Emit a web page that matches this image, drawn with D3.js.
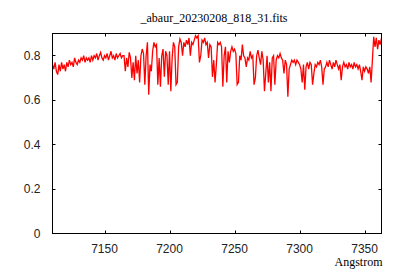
<!DOCTYPE html>
<html><head><meta charset="utf-8">
<script src="https://cdn.jsdelivr.net/npm/d3@7"></script>
<style>body{margin:0;background:#fff}svg{display:block}</style>
</head><body><svg id="c" width="400" height="280"></svg>
<script>
const title = "_abaur_20230208_818_31.fits";
const xLabel = "Angstrom";
const xTicks = [7150, 7200, 7250, 7300, 7350];
const yTicks = [0, 0.2, 0.4, 0.6, 0.8];
const xRange = [7110, 7363];
const yRange = [0, 0.9];
const wavelengths = [
7110,7111,7112,7113,7114,7115,7116,7117,7118,7119,
7120,7121,7122,7123,7124,7125,7126,7127,7128,7129,
7130,7131,7132,7133,7134,7135,7136,7137,7138,7139,
7140,7141,7142,7143,7144,7145,7146,7147,7148,7149,
7150,7151,7152,7153,7154,7155,7156,7157,7158,7159,
7160,7161,7162,7163,7164,7165,7166,7167,7168,7169,
7170,7171,7172,7173,7174,7175,7176,7177,7178,7179,
7180,7181,7182,7183,7184,7185,7186,7187,7188,7189,
7190,7191,7192,7193,7194,7195,7196,7197,7198,7199,
7200,7201,7202,7203,7204,7205,7206,7207,7208,7209,
7210,7211,7212,7213,7214,7215,7216,7217,7218,7219,
7220,7221,7222,7223,7224,7225,7226,7227,7228,7229,
7230,7231,7232,7233,7234,7235,7236,7237,7238,7239,
7240,7241,7242,7243,7244,7245,7246,7247,7248,7249,
7250,7251,7252,7253,7254,7255,7256,7257,7258,7259,
7260,7261,7262,7263,7264,7265,7266,7267,7268,7269,
7270,7271,7272,7273,7274,7275,7276,7277,7278,7279,
7280,7281,7282,7283,7284,7285,7286,7287,7288,7289,
7290,7291,7292,7293,7294,7295,7296,7297,7298,7299,
7300,7301,7302,7303,7304,7305,7306,7307,7308,7309,
7310,7311,7312,7313,7314,7315,7316,7317,7318,7319,
7320,7321,7322,7323,7324,7325,7326,7327,7328,7329,
7330,7331,7332,7333,7334,7335,7336,7337,7338,7339,
7340,7341,7342,7343,7344,7345,7346,7347,7348,7349,
7350,7351,7352,7353,7354,7355,7356,7357,7358,7359,
7360,7361,7362,7363];
const flux = [
0.76,0.74,0.77,0.73,0.715,0.76,0.73,0.77,0.74,0.76,
0.73,0.77,0.75,0.78,0.76,0.77,0.75,0.79,0.77,0.76,
0.78,0.77,0.79,0.78,0.80,0.77,0.79,0.78,0.79,0.77,
0.80,0.78,0.80,0.79,0.81,0.78,0.80,0.815,0.79,0.78,
0.80,0.79,0.81,0.78,0.80,0.82,0.79,0.80,0.78,0.81,
0.79,0.80,0.81,0.79,0.80,0.80,0.73,0.79,0.75,0.815,
0.79,0.70,0.77,0.69,0.80,0.72,0.78,0.68,0.80,0.83,
0.81,0.67,0.80,0.86,0.625,0.76,0.73,0.82,0.86,0.84,
0.85,0.67,0.79,0.66,0.80,0.83,0.705,0.82,0.80,0.67,
0.82,0.64,0.79,0.86,0.84,0.67,0.68,0.84,0.875,0.86,
0.80,0.86,0.84,0.87,0.85,0.88,0.80,0.86,0.85,0.87,
0.89,0.88,0.89,0.77,0.80,0.87,0.86,0.88,0.85,0.86,
0.79,0.85,0.84,0.705,0.78,0.68,0.76,0.86,0.85,0.86,
0.84,0.66,0.80,0.84,0.68,0.82,0.77,0.82,0.84,0.82,
0.83,0.81,0.67,0.68,0.80,0.78,0.85,0.80,0.79,0.75,
0.79,0.78,0.82,0.79,0.80,0.67,0.70,0.80,0.825,0.79,
0.76,0.82,0.78,0.64,0.72,0.80,0.68,0.77,0.64,0.79,
0.80,0.67,0.78,0.80,0.79,0.81,0.79,0.78,0.72,0.78,
0.76,0.615,0.74,0.76,0.78,0.77,0.78,0.76,0.78,0.77,
0.76,0.74,0.68,0.76,0.647,0.75,0.77,0.74,0.77,0.76,
0.67,0.72,0.76,0.75,0.77,0.76,0.78,0.75,0.67,0.74,
0.75,0.77,0.75,0.78,0.76,0.74,0.77,0.75,0.78,0.76,
0.74,0.76,0.69,0.75,0.77,0.75,0.76,0.74,0.77,0.75,
0.76,0.74,0.77,0.75,0.76,0.74,0.76,0.73,0.69,0.75,
0.73,0.75,0.74,0.72,0.75,0.68,0.78,0.885,0.84,0.88,
0.83,0.87,0.85,0.88];

const svg = d3.select("#c");
const L = 52.5, R = 381.5, T = 33.5, B = 233.5;
const x = d3.scaleLinear().domain(xRange).range([L, R]);
const y = d3.scaleLinear().domain(yRange).range([B, T]);
const sans = "'Liberation Sans', Arial, sans-serif";
const serif = "'Liberation Serif', 'Times New Roman', serif";
const tl = 3;

// data line
const data = wavelengths.map((w, i) => [w, flux[i]]);
svg.append("defs").append("clipPath").attr("id", "clip")
  .append("rect").attr("x", L).attr("y", T).attr("width", R - L).attr("height", B - T);
svg.append("path").datum(data)
  .attr("clip-path", "url(#clip)")
  .attr("fill", "none").attr("stroke", "#ff0000").attr("stroke-width", 1.3)
  .attr("stroke-linejoin", "miter")
  .attr("d", d3.line().x(d => x(d[0])).y(d => y(d[1])));

// axes (inward ticks on all four sides)
const g = svg.append("g").attr("stroke", "#000").attr("stroke-width", 1).attr("fill", "none");
xTicks.forEach(t => {
  const px = Math.round(x(t)) + 0.5;
  g.append("line").attr("x1", px).attr("x2", px).attr("y1", B).attr("y2", B - tl);
  g.append("line").attr("x1", px).attr("x2", px).attr("y1", T).attr("y2", T + tl);
});
yTicks.forEach(t => {
  const py = Math.round(y(t) - 0.5) + 0.5;
  g.append("line").attr("x1", L).attr("x2", L + tl).attr("y1", py).attr("y2", py);
  g.append("line").attr("x1", R).attr("x2", R - tl).attr("y1", py).attr("y2", py);
});
g.append("rect").attr("x", L).attr("y", T).attr("width", R - L).attr("height", B - T);

// tick labels
svg.append("g").selectAll("text").data(xTicks).join("text")
  .attr("x", d => x(d)).attr("y", 252.5).attr("text-anchor", "middle")
  .attr("font-family", sans).attr("font-size", 12).attr("fill", "#222")
  .text(d => d);
svg.append("g").selectAll("text").data(yTicks).join("text")
  .attr("x", 40.5).attr("y", d => y(d) + 4).attr("text-anchor", "end")
  .attr("font-family", sans).attr("font-size", 12).attr("fill", "#222")
  .text(d => d === 0 ? "0" : d3.format(".1f")(d));

svg.append("text").attr("x", 214).attr("y", 22).attr("text-anchor", "middle")
  .attr("font-family", serif).attr("font-size", 12).attr("fill", "#000").text(title);
svg.append("text").attr("x", 382.5).attr("y", 266).attr("text-anchor", "end")
  .attr("font-family", serif).attr("font-size", 12).attr("fill", "#000").text(xLabel);
</script></body></html>
